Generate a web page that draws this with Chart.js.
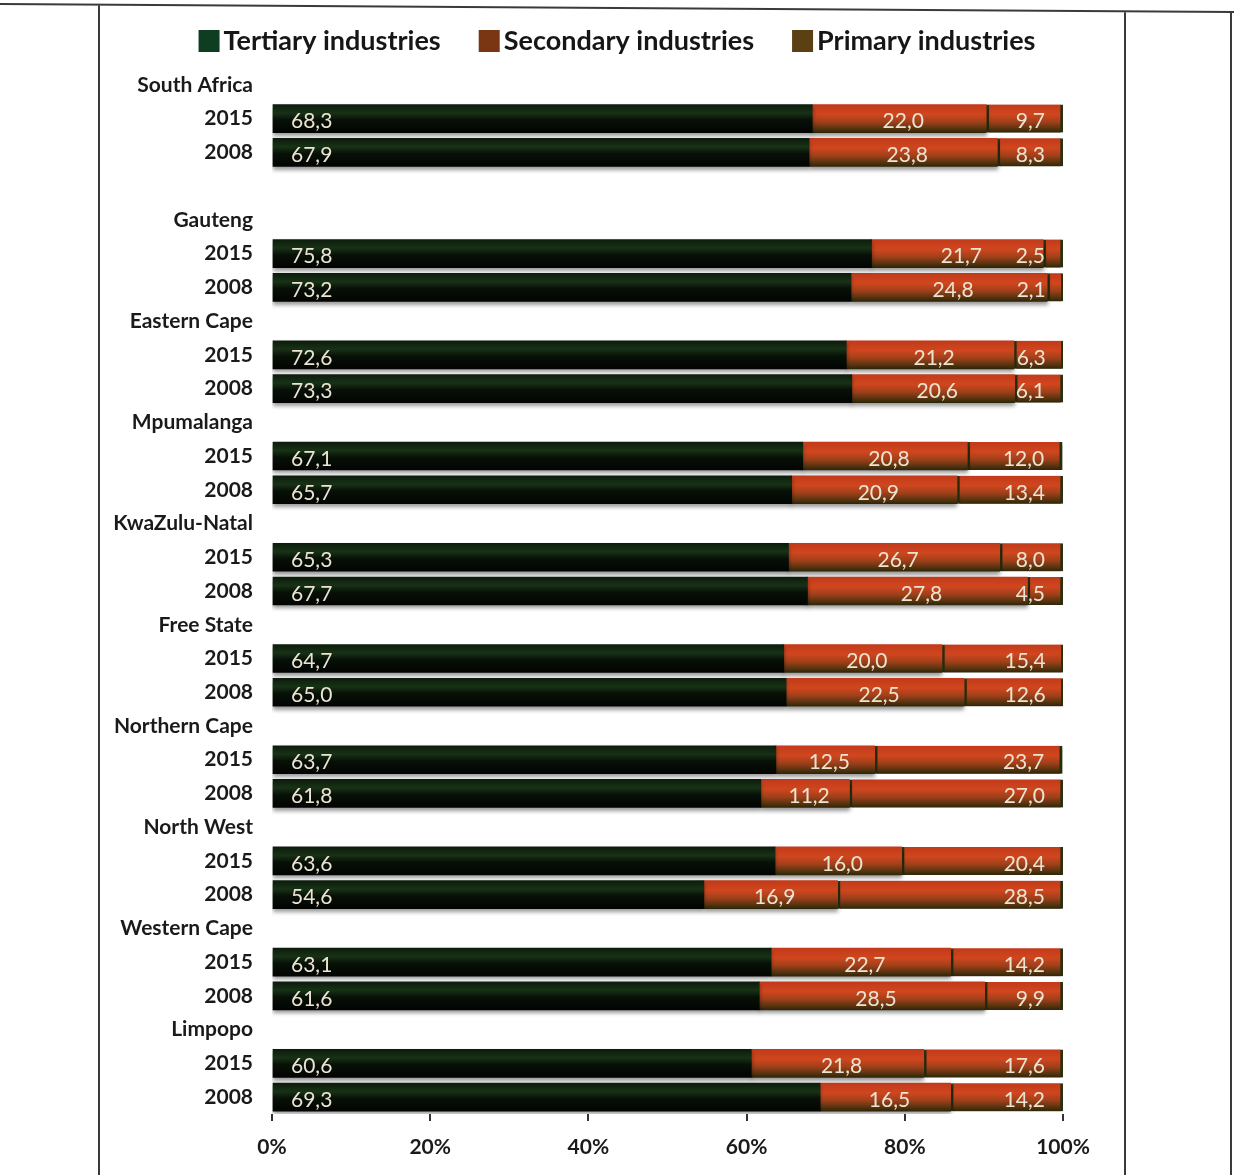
<!DOCTYPE html>
<html>
<head>
<meta charset="utf-8">
<title>Industry shares by province</title>
<script src="https://cdn.jsdelivr.net/npm/chart.js@4.4.1/dist/chart.umd.min.js"></script>
<style>
  html, body { margin: 0; padding: 0; background: #fff; }
  #wrap { width: 1234px; height: 1175px; position: relative; }
</style>
</head>
<body>
<div id="wrap"><canvas id="chart" width="1234" height="1175"></canvas></div>
<script>
// regions, each with a 2015 and a 2008 bar
const regions = ["South Africa", "Gauteng", "Eastern Cape", "Mpumalanga", "KwaZulu-Natal",
  "Free State", "Northern Cape", "North West", "Western Cape", "Limpopo"];
const years = ["2015", "2008"];

// shares in %, two per region (2015, 2008)
const tertiary = [68.3, 67.9, 75.8, 73.2, 72.6, 73.3, 67.1, 65.7, 65.3, 67.7,
  64.7, 65.0, 63.7, 61.8, 63.6, 54.6, 63.1, 61.6, 60.6, 69.3];
const secondary = [22.0, 23.8, 21.7, 24.8, 21.2, 20.6, 20.8, 20.9, 26.7, 27.8,
  20.0, 22.5, 12.5, 11.2, 16.0, 16.9, 22.7, 28.5, 21.8, 16.5];
const primary = [9.7, 8.3, 2.5, 2.1, 6.3, 6.1, 12.0, 13.4, 8.0, 4.5,
  15.4, 12.6, 23.7, 27.0, 20.4, 28.5, 14.2, 9.9, 17.6, 14.2];

const seriesNames = ["Tertiary industries", "Secondary industries", "Primary industries"];
const xTicks = [0, 20, 40, 60, 80, 100];

// one row per region heading, then one per year; an empty row after the national total
const rows = [];
const rowData = [[], [], []];
regions.forEach(function (r, i) {
  rows.push(r);
  rowData.forEach(function (d) { d.push(null); });
  years.forEach(function (yr, j) {
    rows.push(yr);
    rowData[0].push(tertiary[i * 2 + j]);
    rowData[1].push(secondary[i * 2 + j]);
    rowData[2].push(primary[i * 2 + j]);
  });
  if (i === 0) {
    rows.push("");
    rowData.forEach(function (d) { d.push(null); });
  }
});

const BAR_H = 28;

function barGradient(stops, fallback) {
  return function (ctx) {
    const chart = ctx.chart;
    const y = chart.scales.y;
    if (ctx.type !== "data" || !y || !chart.chartArea) return fallback;
    const yc = y.getPixelForValue(ctx.dataIndex);
    const g = chart.ctx.createLinearGradient(0, yc - BAR_H / 2, 0, yc + BAR_H / 2);
    stops.forEach(function (s) { g.addColorStop(s[0], s[1]); });
    return g;
  };
}

const greenStops = [[0, "#0c1c0c"], [0.3, "#183216"], [0.55, "#071007"], [1, "#020402"]];
const redStops = [[0, "#c23a1a"], [0.35, "#d0461e"], [0.62, "#a0401a"], [0.85, "#5a3410"], [1, "#2e2608"]];

// soft drop shadow under the bars
const shadowPlugin = {
  id: "barShadow",
  beforeDatasetsDraw(chart) {
    const c = chart.ctx;
    c.save();
    c.shadowColor = "rgba(0,0,0,0.4)";
    c.shadowOffsetY = 3;
    c.shadowBlur = 4;
  },
  afterDatasetsDraw(chart) {
    chart.ctx.restore();
  }
};

// value labels: tertiary at the start, secondary centred, primary at the end
const valueLabels = {
  id: "valueLabels",
  afterDatasetsDraw(chart) {
    const c = chart.ctx;
    c.save();
    c.font = "21px Lato";
    c.fillStyle = "#ece4d2";
    c.textBaseline = "middle";
    chart.data.datasets.forEach(function (ds, di) {
      chart.getDatasetMeta(di).data.forEach(function (bar, i) {
        const v = ds.data[i];
        if (v == null) return;
        const txt = v.toFixed(1).replace(".", ",");
        const y = bar.y + 3;
        if (di === 0) {
          c.textAlign = "left";
          c.fillText(txt, bar.base + 18, y);
        } else if (di === 1) {
          c.textAlign = "center";
          c.fillText(txt, (bar.base + bar.x) / 2 + 4, y);
        } else {
          c.textAlign = "right";
          c.fillText(txt, bar.x - 18, y);
        }
      });
    });
    c.restore();
  }
};

const legendColors = ["#0f3d22", "#7a3512", "#5a4012"];

// legend row across the top, centred on the page
const topLegend = {
  id: "topLegend",
  afterDraw(chart) {
    const c = chart.ctx;
    c.save();
    c.font = "bold 27px Lato";
    c.textBaseline = "middle";
    c.textAlign = "left";
    const box = 21, gap = 4, space = 38;
    const widths = seriesNames.map(function (s) { return c.measureText(s).width; });
    let total = 0;
    widths.forEach(function (w, i) { total += box + gap + w + (i ? space : 0); });
    let x = chart.width / 2 - total / 2;
    const y = 41;
    seriesNames.forEach(function (s, i) {
      c.fillStyle = legendColors[i];
      c.fillRect(x, y - 11, box, 22);
      c.fillStyle = "#161616";
      c.fillText(s, x + box + gap, y);
      x += box + gap + widths[i] + space;
    });
    c.restore();
  }
};

// page frame lines
const frame = {
  id: "frame",
  beforeDraw(chart) {
    const c = chart.ctx;
    c.save();
    c.strokeStyle = "#3a3a3a";
    c.lineWidth = 2;
    c.beginPath();
    c.moveTo(0, 4);
    c.lineTo(1234, 12);
    c.moveTo(99, 5);
    c.lineTo(99, 1175);
    c.moveTo(1125, 11);
    c.lineTo(1125, 1175);
    c.moveTo(1231, 12);
    c.lineTo(1231, 1175);
    c.stroke();
    c.restore();
  }
};

new Chart(document.getElementById("chart"), {
  type: "bar",
  data: {
    labels: rows,
    datasets: [
      {
        label: seriesNames[0],
        data: rowData[0],
        backgroundColor: barGradient(greenStops, "#0b1a0b"),
        borderWidth: 0
      },
      {
        label: seriesNames[1],
        data: rowData[1],
        backgroundColor: barGradient(redStops, "#c23a1a"),
        borderWidth: 0
      },
      {
        label: seriesNames[2],
        data: rowData[2],
        backgroundColor: barGradient(redStops, "#c23a1a"),
        borderColor: "#2c3410",
        borderSkipped: false,
        borderWidth: { left: 3, right: 3, top: 0, bottom: 0 }
      }
    ]
  },
  options: {
    indexAxis: "y",
    responsive: false,
    animation: false,
    barThickness: BAR_H,
    layout: { padding: { top: 68, right: 171, left: 0, bottom: 0 } },
    plugins: {
      legend: { display: false },
      tooltip: { enabled: false }
    },
    scales: {
      x: {
        stacked: true,
        min: 0,
        max: 100,
        afterBuildTicks(scale) {
          scale.ticks = xTicks.map(function (v) { return { value: v }; });
        },
        afterFit(scale) { scale.height = 61; },
        border: { display: false },
        grid: {
          drawOnChartArea: false,
          drawTicks: true,
          tickLength: 7,
          color: "#333",
          lineWidth: 2
        },
        ticks: {
          padding: 14,
          color: "#1a1a1a",
          font: { family: "Lato", size: 21, weight: "bold" },
          callback: function (v) { return v + "%"; }
        }
      },
      y: {
        stacked: true,
        afterFit(scale) { scale.width = 272; },
        border: { display: false },
        grid: { display: false, drawTicks: false },
        ticks: {
          padding: 19,
          autoSkip: false,
          color: "#1a1a1a",
          font: { family: "Lato", size: 21, weight: "bold" }
        }
      }
    }
  },
  plugins: [frame, shadowPlugin, valueLabels, topLegend]
});
</script>
</body>
</html>
